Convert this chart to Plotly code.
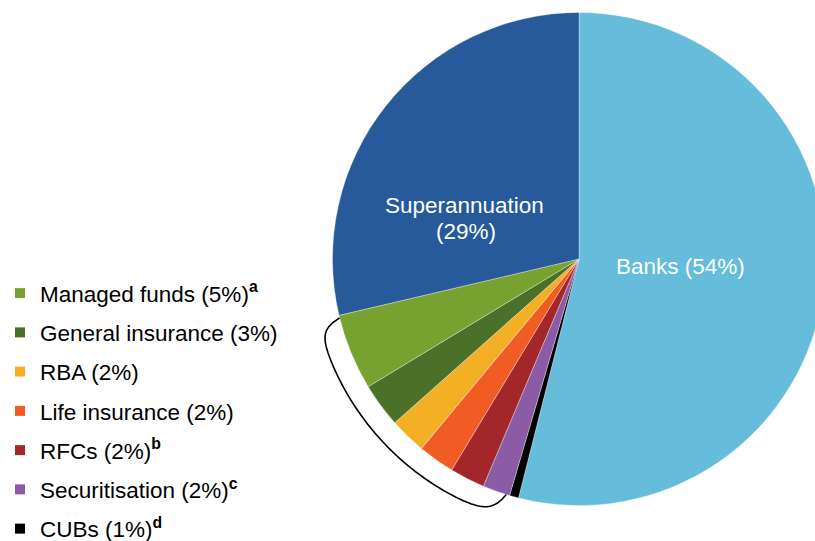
import math
import plotly.graph_objects as go

# ---- data ----
labels = ["Banks", "CUBs", "Securitisation", "RFCs", "Life insurance",
          "RBA", "General insurance", "Managed funds", "Superannuation"]
values = [54.0, 0.6, 1.8, 2.3, 2.4, 2.4, 2.9, 5.0, 28.7]
colors = ["#65BCDB", "#000000", "#8B5BA6", "#A3262A", "#F15B24",
          "#F4B025", "#4B7029", "#78A22F", "#275A9B"]

banks_label = "Banks (54%)"
super_label = ["Superannuation", "(29%)"]

legend_names = ["Managed funds (5%)<sup><b>a</b></sup>",
                "General insurance (3%)",
                "RBA (2%)",
                "Life insurance (2%)",
                "RFCs (2%)<sup><b>b</b></sup>",
                "Securitisation (2%)<sup><b>c</b></sup>",
                "CUBs (1%)<sup><b>d</b></sup>"]
legend_colors = ["#78A22F", "#4B7029", "#F4B025", "#F15B24", "#A3262A", "#8B5BA6", "#000000"]

# ---- layout geometry ----
W, H = 828, 541              # a little wider than the window: the pie is clipped at the right
OFF = 0
FONT = "Arial, Liberation Sans, sans-serif"


def fx(px):
    return (px - OFF) / W


def fy(py):
    return 1 - (py - OFF) / H


cx, cy, R = 579.0, 259.0, 246.5

fig = go.Figure()
fig.add_trace(go.Pie(
    labels=labels, values=values, textinfo="none",
    sort=False, direction="clockwise", rotation=0,
    marker=dict(colors=colors, line=dict(color="rgba(255,255,255,0.55)", width=0.6)),
    showlegend=False, hoverinfo="label+percent",
    domain=dict(x=[fx(cx - R), min(1.0, fx(cx + R))], y=[fy(cy + R), fy(cy - R)]),
))

for i, (n, c) in enumerate(zip(legend_names, legend_colors)):
    fig.add_trace(go.Scatter(x=[None], y=[None], mode="markers", name=n,
                             legendgroup=f"g{i}",
                             marker=dict(symbol="square", size=10, color=c)))

lab_font = dict(color="white", size=22.5, family=FONT)
fig.add_annotation(text=banks_label, x=fx(680), y=fy(266), xref="paper", yref="paper",
                   showarrow=False, font=lab_font, xanchor="center", yanchor="middle")
fig.add_annotation(text=super_label[0], x=fx(464), y=fy(206), xref="paper", yref="paper",
                   showarrow=False, font=lab_font, xanchor="center", yanchor="middle")
fig.add_annotation(text=super_label[1], x=fx(466), y=fy(231), xref="paper", yref="paper",
                   showarrow=False, font=lab_font, xanchor="center", yanchor="middle")

# bracket around the small slices (Managed funds .. CUBs)
tot = sum(values)
cum = 0.0
bounds = []
for v in values:
    bounds.append((cum / tot * 360, (cum + v) / tot * 360))
    cum += v
ccw_start = 360 - bounds[7][1]
ccw_end = 360 - bounds[1][1]
a0, a1 = ccw_start + 0.6, ccw_end - 0.8
pts = []
n = 90
for k in range(n + 1):
    a = a0 + (a1 - a0) * k / n
    f = (1 - math.exp(-(a - a0) / 1.5)) * (1 - math.exp(-(a1 - a) / 1.9))
    r = R * (1.0 + 0.088 * f)
    rad = math.radians(a)
    px = cx - r * math.sin(rad)
    py = cy - r * math.cos(rad)
    pts.append((fx(px), fy(py)))
path = "M " + " L ".join(f"{x:.5f},{y:.5f}" for x, y in pts)
fig.add_shape(type="path", path=path, xref="paper", yref="paper",
              line=dict(color="black", width=1.6))

fig.update_layout(
    width=W, height=H,
    margin=dict(l=0, r=0, t=0, b=0, autoexpand=False),
    paper_bgcolor="white", plot_bgcolor="white",
    font=dict(family=FONT, size=22, color="black"),
    xaxis=dict(visible=False), yaxis=dict(visible=False),
    showlegend=True,
    legend=dict(x=fx(0), y=fy(272), xanchor="left", yanchor="top",
                font=dict(size=22.5, family=FONT, color="black"),
                tracegroupgap=7, bgcolor="rgba(0,0,0,0)"),
)

fig.write_html(
    "out.html",
    config={"displayModeBar": False},
    post_script="document.body.style.margin='0';"
                "document.body.style.overflow='hidden';"
                "document.documentElement.style.overflow='hidden';",
)
